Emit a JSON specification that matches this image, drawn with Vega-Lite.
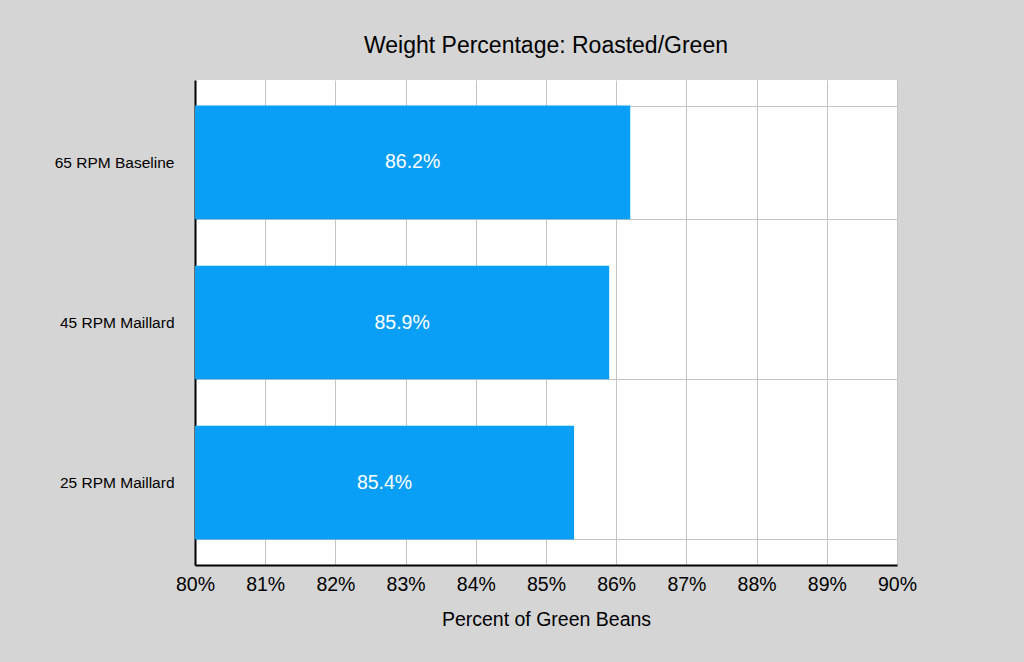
{
  "$schema": "https://vega.github.io/schema/vega-lite/v6.json",
  "width": 702,
  "height": 485,
  "autosize": "none",
  "padding": {"left": 195, "top": 80, "right": 127, "bottom": 97},
  "background": "#d5d5d5",
  "title": {
    "text": "Weight Percentage: Roasted/Green",
    "font": "Liberation Sans",
    "fontSize": 23,
    "fontWeight": "normal",
    "color": "#000000",
    "anchor": "middle",
    "baseline": "bottom",
    "offset": -8
  },
  "data": {
    "values": [
      {"roast": "65 RPM Baseline", "pct": 86.2},
      {"roast": "45 RPM Maillard", "pct": 85.9},
      {"roast": "25 RPM Maillard", "pct": 85.4}
    ]
  },
  "transform": [
    {"calculate": "(datum.pct + 80) / 2", "as": "mid"},
    {"calculate": "format(datum.pct, '.1f') + '%'", "as": "label"}
  ],
  "encoding": {
    "y": {
      "field": "roast",
      "type": "nominal",
      "sort": null,
      "scale": {"paddingInner": 0.29, "paddingOuter": 0.16},
      "axis": {
        "title": null,
        "ticks": false,
        "labelPadding": 21,
        "labelFontSize": 15.5,
        "labelFont": "Liberation Sans",
        "labelColor": "#000000",
        "tickBand": "extent",
        "grid": true,
        "gridColor": "#c4c4c4",
        "gridWidth": 1,
        "domainColor": "#000000",
        "domainWidth": 2
      }
    }
  },
  "layer": [
    {
      "mark": {"type": "bar", "color": "#0a9ff7"},
      "encoding": {
        "x": {
          "field": "pct",
          "type": "quantitative",
          "scale": {"domain": [80, 90], "nice": false, "zero": false},
          "axis": {
            "title": "Percent of Green Beans",
            "titleFont": "Liberation Sans",
            "titleFontSize": 19.5,
            "titleFontWeight": "normal",
            "titleColor": "#000000",
            "titlePadding": 17,
            "values": [80, 81, 82, 83, 84, 85, 86, 87, 88, 89, 90],
            "labelExpr": "datum.value + '%'",
            "labelFlush": false,
            "labelFont": "Liberation Sans",
            "labelFontSize": 19.5,
            "labelColor": "#000000",
            "labelPadding": 10,
            "ticks": false,
            "grid": true,
            "gridColor": "#c4c4c4",
            "gridWidth": 1,
            "domainColor": "#000000",
            "domainWidth": 2
          }
        },
        "x2": {"datum": 80}
      }
    },
    {
      "mark": {"type": "text", "color": "white", "font": "Liberation Sans", "fontSize": 19.5, "align": "center", "baseline": "middle"},
      "encoding": {
        "x": {"field": "mid", "type": "quantitative"},
        "text": {"field": "label", "type": "nominal"}
      }
    }
  ],
  "config": {
    "view": {"fill": "white", "stroke": null}
  }
}
